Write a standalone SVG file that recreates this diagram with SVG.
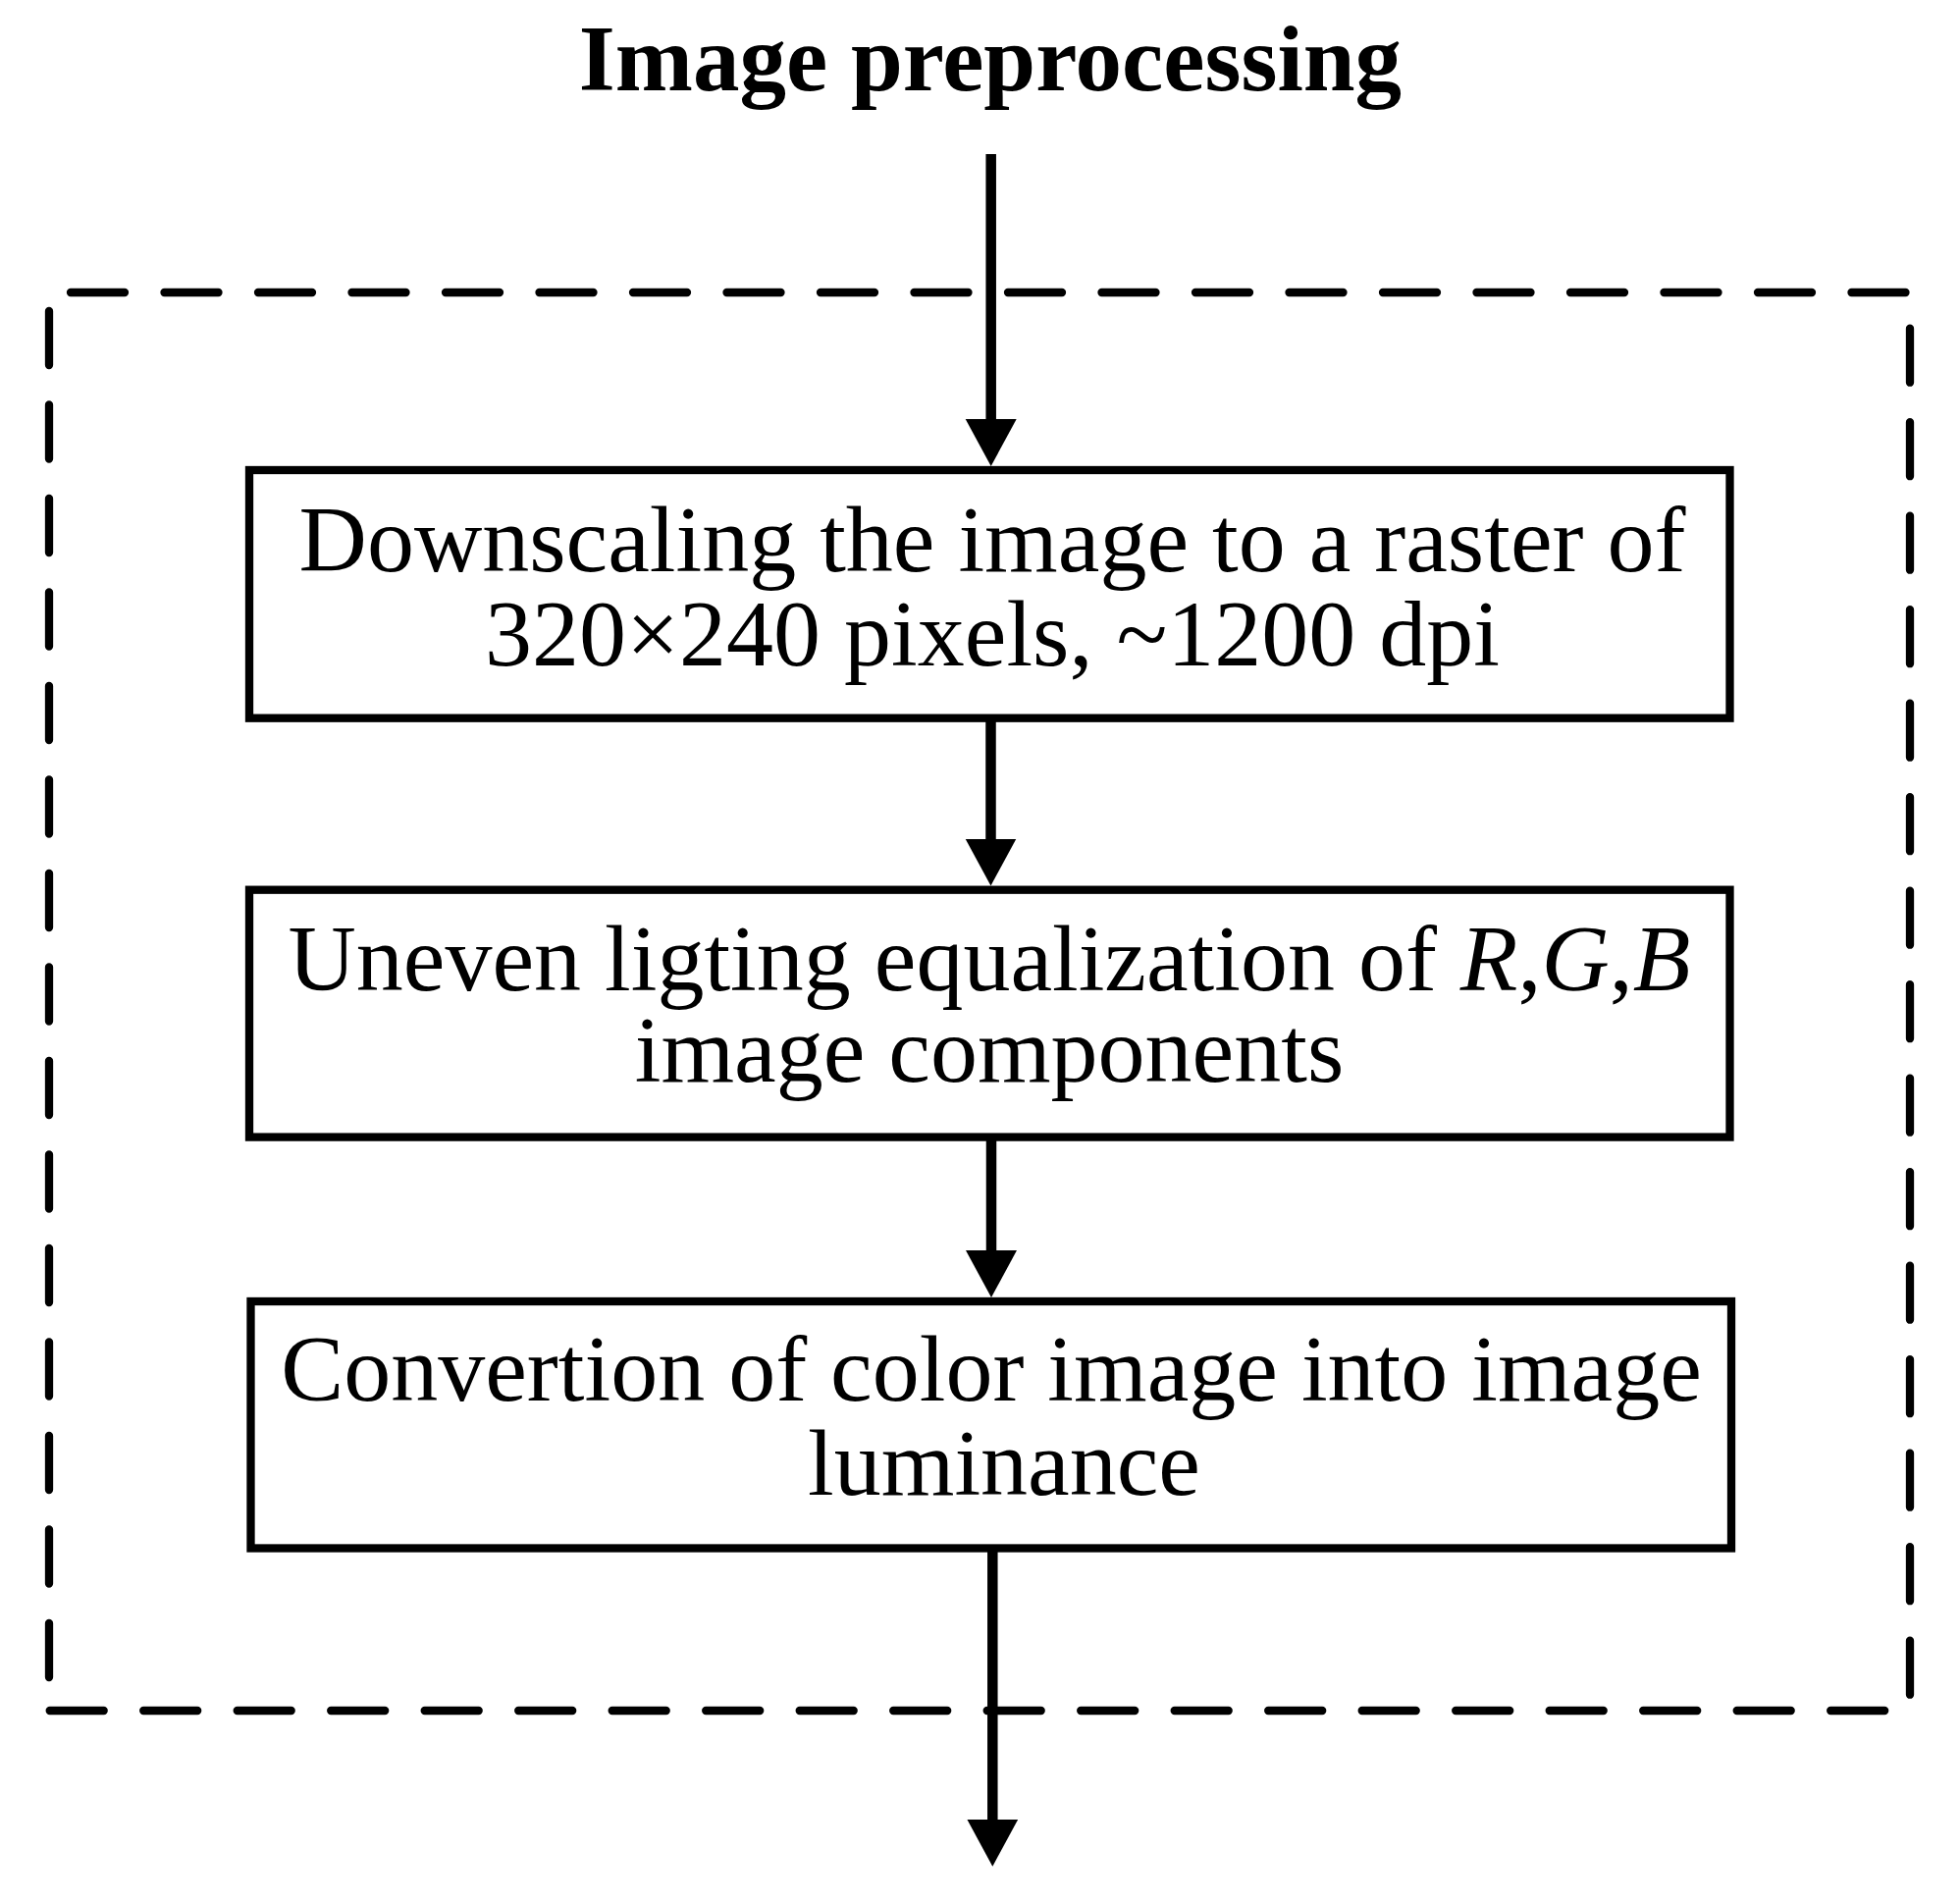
<svg xmlns="http://www.w3.org/2000/svg" width="1997" height="1939" viewBox="0 0 1997 1939">
  <style>
    .box { fill: #ffffff; stroke: #000000; stroke-width: 8.3; }
    .dash { fill: none; stroke: #000000; stroke-width: 8.3; stroke-linecap: round; stroke-dasharray: 55 40.5; }
    .conn { fill: none; stroke: #000000; stroke-width: 10.5; }
    .lbl { font-family: "Liberation Serif", "Times New Roman", serif; font-size: 96px; fill: #000000; text-anchor: middle; }
    .title { font-family: "Liberation Serif", "Times New Roman", serif; font-size: 95px; font-weight: bold; fill: #000000; text-anchor: middle; }
  </style>
  <defs>
    <marker id="arrow" markerUnits="userSpaceOnUse" markerWidth="60" markerHeight="60" viewBox="0 -30 60 60" refX="18" refY="0" orient="auto">
      <path d="M0,-26 L48,0 L0,26 z" fill="#000000"/>
    </marker>
  </defs>
  <rect width="1997" height="1939" fill="#ffffff"/>

  <g id="title">
    <text class="title" x="1009" y="92">Image preprocessing</text>
  </g>

  <g id="group-frame">
    <path class="dash" d="M72,298 H1943"/>
    <path class="dash" d="M50,317 V1711"/>
    <path class="dash" d="M1946,334.7 V1728"/>
    <path class="dash" d="M50.7,1743 H1921"/>
  </g>

  <g id="connectors">
    <path class="conn" d="M1009.7,157 V445" marker-end="url(#arrow)"/>
    <path class="conn" d="M1009.5,731 V872.5" marker-end="url(#arrow)"/>
    <path class="conn" d="M1010,1158 V1292" marker-end="url(#arrow)"/>
    <path class="conn" d="M1011.3,1577 V1871.7" marker-end="url(#arrow)"/>
  </g>

  <g id="node-downscale">
    <rect class="box" x="254" y="479" width="1508.5" height="252.7"/>
    <text class="lbl" y="582"><tspan x="1011">Downscaling the image to a raster of</tspan><tspan x="1011" dy="96">320×240 pixels, ~1200 dpi</tspan></text>
  </g>

  <g id="node-equalization">
    <rect class="box" x="254" y="906.7" width="1508.5" height="251.9"/>
    <text class="lbl" y="1009"><tspan x="1008">Uneven ligting equalization of <tspan font-style="italic">R</tspan>,<tspan font-style="italic">G</tspan>,<tspan font-style="italic">B</tspan></tspan><tspan x="1008" dy="93">image components</tspan></text>
  </g>

  <g id="node-luminance">
    <rect class="box" x="255.5" y="1326" width="1508.5" height="251.5"/>
    <text class="lbl" y="1427"><tspan x="1010">Convertion of color image into image</tspan><tspan x="1023" dy="96">luminance</tspan></text>
  </g>
</svg>
